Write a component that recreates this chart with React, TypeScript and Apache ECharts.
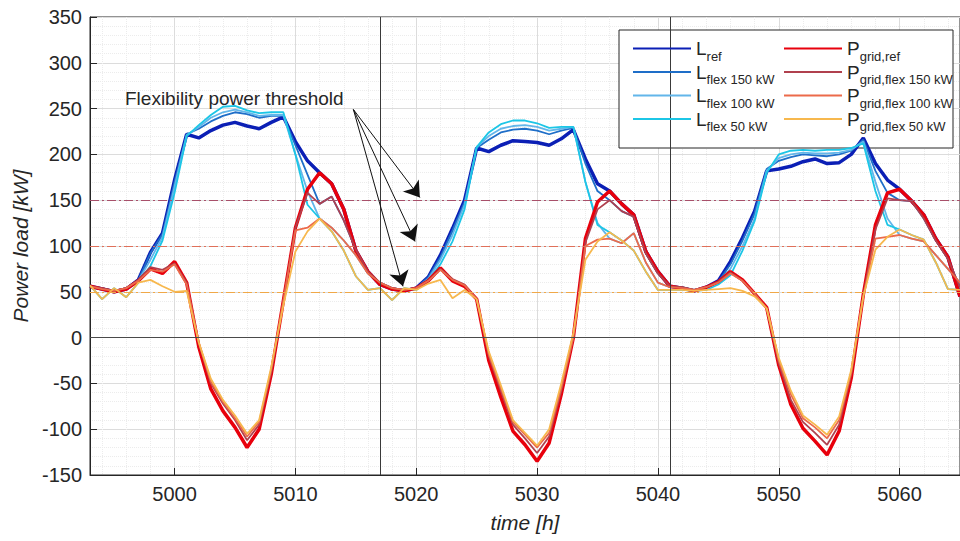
import React, { useEffect, useRef } from "react";
import * as echarts from "echarts";

const START_HOUR = 4993;
const END_HOUR = 5065;
const hours: number[] = [];
for (let h = START_HOUR; h <= END_HOUR; h++) hours.push(h);

// Values, one per hour from 4993 to 5065 (kW)
const lRef = [
  56, 53, 50, 53, 63, 93, 114, 172, 222, 218,
  226, 232, 235, 231, 228, 235, 241, 214, 193, 180,
  168, 140, 95, 72, 58, 53, 51, 54, 66, 90,
  119, 150, 207, 203, 210, 215, 214, 213, 210, 217,
  227, 195, 168, 160, 146, 134, 94, 72, 56, 54,
  51, 55, 62, 83, 109, 138, 182, 184, 187, 192,
  195, 190, 191, 200, 218, 190, 172, 162, 149, 134,
  108, 88, 45,
];
const lFlex150 = [
  56, 54, 51, 54, 63, 92, 113, 170, 222, 228,
  236, 242, 246, 244, 240, 242, 242, 210, 178, 146,
  154, 128, 96, 72, 60, 54, 52, 54, 66, 88,
  117, 148, 207, 216, 224, 227, 228, 226, 222, 226,
  229, 190, 160, 150, 138, 132, 92, 70, 56, 55,
  52, 55, 61, 80, 106, 136, 184, 193, 197, 200,
  199, 198, 200, 204, 216, 182, 158, 150, 149, 130,
  106, 86, 55,
];
const lFlex100 = [
  56, 53, 51, 54, 62, 85, 110, 165, 221, 230,
  240, 246, 249, 246, 242, 243, 243, 200, 160, 130,
  120, 106, 90, 70, 60, 54, 52, 54, 64, 85,
  112, 145, 208, 220, 228, 231, 232, 230, 226, 228,
  230, 170, 125, 108, 103, 114, 82, 60, 55, 54,
  52, 55, 60, 75, 100, 130, 182, 196, 200, 202,
  201, 201, 202, 205, 214, 170, 130, 112, 108, 105,
  90, 75, 60,
];
const lFlex50 = [
  57, 42, 54, 44, 60, 78, 106, 158, 220, 232,
  243, 252, 253, 248, 245, 246, 246, 200, 145, 130,
  116, 95, 67, 52, 54, 41, 54, 52, 62, 80,
  105, 140, 208, 224, 233, 237, 237, 234, 229, 230,
  230, 170, 123, 115, 106, 95, 72, 52, 52, 52,
  51, 52, 58, 68, 95, 127, 180, 200, 204, 205,
  204, 205, 205, 207, 212, 160, 123, 118, 112, 107,
  82, 53, 52,
];
const pGridRef = [
  56, 53, 50, 53, 62, 75, 70, 83, 60, -10,
  -56, -80, -98, -120, -100, -40, 40, 120, 162, 180,
  168, 140, 95, 72, 58, 53, 51, 54, 62, 76,
  62, 56, 42, -25, -65, -102, -117, -135, -115, -62,
  0, 108, 148, 160, 146, 134, 94, 72, 56, 54,
  51, 55, 61, 72, 63, 48, 33, -30, -73, -99,
  -113, -128, -102, -44, 47, 123, 158, 162, 149, 134,
  108, 88, 45,
];
const pGridFlex150 = [
  56, 54, 51, 54, 63, 77, 74, 81, 60, -6,
  -50, -72, -90, -112, -95, -38, 40, 120, 158, 146,
  154, 128, 96, 72, 60, 54, 52, 54, 62, 75,
  64, 58, 42, -20, -58, -95, -110, -126, -108, -58,
  0, 104, 140, 150, 138, 132, 92, 70, 56, 55,
  52, 55, 61, 71, 62, 48, 32, -28, -68, -92,
  -104, -117, -95, -40, 46, 118, 152, 150, 149, 130,
  106, 86, 55,
];
const pGridFlex100 = [
  56, 53, 51, 54, 62, 74, 72, 80, 58, -5,
  -48, -70, -88, -108, -92, -35, 40, 117, 120, 130,
  120, 106, 90, 70, 60, 54, 52, 54, 62, 74,
  63, 57, 42, -18, -55, -92, -106, -120, -104, -55,
  0, 100, 107, 108, 103, 114, 82, 60, 55, 54,
  52, 55, 60, 70, 62, 48, 32, -25, -62, -88,
  -98, -110, -90, -38, 45, 108, 110, 112, 108, 105,
  90, 75, 60,
];
const pGridFlex50 = [
  57, 42, 54, 44, 60, 63, 56, 50, 51, -5,
  -45, -68, -85, -105, -90, -32, 35, 94, 116, 130,
  116, 95, 67, 52, 54, 41, 54, 52, 59, 63,
  43, 52, 42, -15, -52, -90, -104, -118, -100, -50,
  5, 85, 105, 115, 106, 95, 72, 52, 52, 52,
  51, 52, 53, 54, 51, 45, 32, -22, -58, -85,
  -95, -106, -86, -35, 45, 96, 110, 118, 112, 107,
  82, 53, 52,
];

const thresholds = [150, 100, 50];
const dayBoundaries = [5017, 5041];
const annotationText = "Flexibility power threshold";
const arrowStart: [number, number] = [5014.8, 249];
const arrowTips: [number, number][] = [
  [5020.3, 153],
  [5019.9, 105],
  [5018.9, 56],
];

const FONT = "'Liberation Sans', Arial, Helvetica, sans-serif";
const TXT = "#262626";

type SeriesDef = { name: string; main: string; sub: string; data: number[]; color: string; width: number };
const lSeries: SeriesDef[] = [
  { name: "L_ref", main: "L", sub: "ref", data: lRef, color: "#0b1fb5", width: 3.5 },
  { name: "L_flex 150 kW", main: "L", sub: "flex 150 kW", data: lFlex150, color: "#1e6ec8", width: 1.8 },
  { name: "L_flex 100 kW", main: "L", sub: "flex 100 kW", data: lFlex100, color: "#62b6ea", width: 1.8 },
  { name: "L_flex 50 kW", main: "L", sub: "flex 50 kW", data: lFlex50, color: "#1cc6e6", width: 1.8 },
];
const pSeries: SeriesDef[] = [
  { name: "P_grid,ref", main: "P", sub: "grid,ref", data: pGridRef, color: "#e8000c", width: 3.5 },
  { name: "P_grid,flex 150 kW", main: "P", sub: "grid,flex 150 kW", data: pGridFlex150, color: "#b0404e", width: 1.8 },
  { name: "P_grid,flex 100 kW", main: "P", sub: "grid,flex 100 kW", data: pGridFlex100, color: "#ec6a4a", width: 1.8 },
  { name: "P_grid,flex 50 kW", main: "P", sub: "grid,flex 50 kW", data: pGridFlex50, color: "#f7b84e", width: 1.8 },
];
const thresholdColors = ["#a8506a", "#e0705a", "#f0a848"];

export default function App() {
  const ref = useRef<HTMLDivElement>(null);
  useEffect(() => {
    if (!ref.current) return;
    const chart = echarts.init(ref.current, undefined, { renderer: "svg" });
    const all = [...lSeries, ...pSeries];
    const labelMap: Record<string, SeriesDef> = {};
    all.forEach((s) => (labelMap[s.name] = s));
    const rich = {
      m: { fontSize: 19, lineHeight: 28, color: TXT, fontFamily: FONT },
      s: { fontSize: 13, lineHeight: 12, verticalAlign: "bottom", color: TXT, fontFamily: FONT },
    };
    const legendCommon = {
      orient: "vertical",
      itemWidth: 58,
      itemHeight: 12,
      itemGap: 0,
      top: 34,
      z: 6,
      itemStyle: { opacity: 0, borderWidth: 0 },
      formatter: (n: string) => `{m|${labelMap[n].main}}{s|${labelMap[n].sub}}`,
      textStyle: { rich },
      selectedMode: false,
    };

    const option: any = {
      animation: false,
      backgroundColor: "#ffffff",
      grid: {
        left: 90,
        top: 17,
        width: 877,
        height: 458,
        show: true,
        borderColor: TXT,
        borderWidth: 1,
        backgroundColor: "#ffffff",
      },
      xAxis: {
        type: "value",
        min: START_HOUR,
        max: END_HOUR,
        splitNumber: 7,
        name: "time [h]",
        nameLocation: "middle",
        nameGap: 37,
        nameTextStyle: { fontSize: 21, fontStyle: "italic", color: TXT, fontFamily: FONT },
        axisLine: { show: true, onZero: false, lineStyle: { color: TXT } },
        axisTick: { show: true, inside: true, length: 7, lineStyle: { color: TXT } },
        axisLabel: {
          fontSize: 20,
          color: TXT,
          margin: 9,
          fontFamily: FONT,
          showMinLabel: false,
          showMaxLabel: false,
          formatter: (v: number) => String(v),
        },
        splitLine: { show: true, lineStyle: { color: "#dcdcdc", width: 1 } },
        minorTick: { show: false, splitNumber: 5 },
        minorSplitLine: { show: true, lineStyle: { color: "#ececec", type: "dotted", width: 1 } },
      },
      yAxis: {
        type: "value",
        min: -150,
        max: 350,
        interval: 50,
        name: "Power load [kW]",
        nameLocation: "middle",
        nameGap: 58,
        nameTextStyle: { fontSize: 21, fontStyle: "italic", color: TXT, fontFamily: FONT },
        axisLine: { show: true, onZero: false, lineStyle: { color: TXT } },
        axisTick: { show: true, inside: true, length: 7, lineStyle: { color: TXT } },
        axisLabel: { fontSize: 20, color: TXT, margin: 8, fontFamily: FONT },
        splitLine: { show: true, lineStyle: { color: "#dcdcdc", width: 1 } },
        minorTick: { show: false, splitNumber: 5 },
        minorSplitLine: { show: true, lineStyle: { color: "#ececec", type: "dotted", width: 1 } },
      },
      legend: [
        { ...legendCommon, left: 627, data: lSeries.map((s) => s.name) },
        { ...legendCommon, left: 778, data: pSeries.map((s) => s.name) },
      ],
      graphic: [
        {
          type: "rect",
          z: 3,
          shape: { x: 619, y: 30, width: 334, height: 118 },
          style: { fill: "#ffffff", stroke: TXT, lineWidth: 1 },
        },
        {
          type: "text",
          z: 7,
          x: 125,
          y: 98,
          style: {
            text: annotationText,
            fontSize: 19,
            fill: TXT,
            fontFamily: FONT,
            verticalAlign: "middle",
          },
        },
      ],
      series: [
        {
          name: "refLines",
          type: "line",
          data: [],
          silent: true,
          markLine: {
            silent: true,
            symbol: ["none", "none"],
            label: { show: false },
            animation: false,
            data: [
              ...thresholds.map((t, i) => ({
                yAxis: t,
                lineStyle: { color: thresholdColors[i], width: 1, type: [9, 3, 2, 3] },
              })),
              { yAxis: 0, lineStyle: { color: "#4a4a4a", width: 1.2, type: "solid" } },
              ...dayBoundaries.map((d) => ({
                xAxis: d,
                lineStyle: { color: "#3a3a3a", width: 1, type: "solid" },
              })),
            ],
          },
        },
        ...all.map((s) => ({
          name: s.name,
          type: "line",
          data: s.data.map((v, i) => [hours[i], v]),
          showSymbol: false,
          symbol: "none",
          color: s.color,
          lineStyle: { color: s.color, width: s.width },
        })),
        {
          name: "arrows",
          type: "line",
          data: [],
          silent: true,
          z: 5,
          markLine: {
            silent: true,
            symbol: ["none", "arrow"],
            symbolSize: 15,
            label: { show: false },
            lineStyle: { color: "#111111", width: 1, type: "solid" },
            data: arrowTips.map((tip) => [{ coord: arrowStart }, { coord: tip }]),
          },
        },
      ],
    };
    chart.setOption(option);
    return () => chart.dispose();
  }, []);
  return (
    <div
      ref={ref}
      style={{ position: "fixed", left: 0, top: 0, width: 960, height: 541, background: "#fff" }}
    />
  );
}
